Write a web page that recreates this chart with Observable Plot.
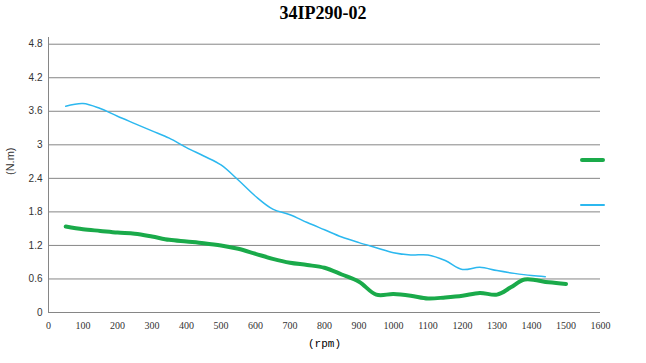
<!DOCTYPE html>
<html><head><meta charset="utf-8">
<script src="https://cdn.jsdelivr.net/npm/d3@7"></script>
<script src="https://cdn.jsdelivr.net/npm/@observablehq/plot@0.6"></script>
<style>
body{margin:0;background:#fff}
#wrap{position:relative;width:646px;height:363px;overflow:hidden}
#title{position:absolute;left:0;width:646px;top:3px;text-align:center;font:bold 18px "Liberation Serif",serif;color:#000}
.leg{position:absolute;left:580px;width:25px}
</style></head>
<body><div id="wrap"><div id="chart"></div><div id="title">34IP290-02</div></div>
<script>
const title = "34IP290-02";
const xLabel = "(rpm)";
const yLabel = "(N.m)";
const xTicks = [0,100,200,300,400,500,600,700,800,900,1000,1100,1200,1300,1400,1500,1600];
const yTicks = [0,0.6,1.2,1.8,2.4,3,3.6,4.2,4.8];
const yTickLabels = ["0","0.6","1.2","1.8","2.4","3","3.6","4.2","4.8"];

const speedBlue = [50,100,150,200,250,300,350,400,450,500,550,600,650,700,750,800,850,900,950,1000,1050,1100,1150,1200,1250,1300,1350,1400,1440];
const torqueBlue = [3.69,3.74,3.65,3.51,3.38,3.25,3.12,2.95,2.80,2.64,2.37,2.08,1.85,1.75,1.61,1.48,1.35,1.25,1.16,1.07,1.03,1.03,0.93,0.77,0.81,0.75,0.70,0.66,0.64];

const speedGreen = [50,100,150,200,250,300,350,400,450,500,550,600,650,700,750,800,850,900,950,1000,1050,1100,1150,1200,1250,1300,1340,1380,1450,1500];
const torqueGreen = [1.54,1.49,1.46,1.43,1.41,1.36,1.30,1.27,1.24,1.20,1.14,1.05,0.96,0.89,0.85,0.80,0.68,0.55,0.32,0.33,0.30,0.25,0.27,0.30,0.35,0.32,0.45,0.59,0.54,0.51];

const seriesColors = ["#1aaa4a", "#2cb8ef"];
const seriesWidths = [4, 1.5];

const blue = speedBlue.map((x,i)=>({x, y: torqueBlue[i]}));
const green = speedGreen.map((x,i)=>({x, y: torqueGreen[i]}));

const chart = Plot.plot({
  width: 646, height: 363,
  marginLeft: 48, marginRight: 46, marginTop: 37, marginBottom: 51,
  style: {background: "#fff", overflow: "visible"},
  x: {domain: [0,1600], ticks: xTicks},
  y: {domain: [0,4.92], ticks: yTicks},
  marks: [
    Plot.ruleY(yTicks, {stroke: "#868686", strokeWidth: 1, strokeOpacity: 1}),
    Plot.ruleX([0], {stroke: "#868686", strokeWidth: 1}),
    Plot.axisY(yTicks, {tickSize: 0, tickPadding: 6, tickFormat: (d,i)=>yTickLabels[i], fontSize: 10, fill: "#333", fontFamily: "Liberation Sans, Arial, sans-serif", label: null}),
    Plot.axisX(xTicks, {tickSize: 0, tickPadding: 9, tickFormat: d=>String(d), fontSize: 10, fill: "#333", fontFamily: "Liberation Serif, serif", label: null}),
    Plot.text([yLabel], {frameAnchor: "left", dx: -38, rotate: -90, fontSize: 11, fill: "#333", fontFamily: "Liberation Sans, Arial, sans-serif"}),
    Plot.text([xLabel], {frameAnchor: "bottom", dy: 34, fontSize: 11, fill: "#000", fontFamily: "Liberation Mono, monospace"}),
    Plot.line(blue, {x: "x", y: "y", stroke: seriesColors[1], strokeWidth: seriesWidths[1], curve: "catmull-rom"}),
    Plot.line(green, {x: "x", y: "y", stroke: seriesColors[0], strokeWidth: seriesWidths[0], curve: "catmull-rom"})
  ]
});
document.getElementById("chart").appendChild(chart);

// legend markers (series names are blank in the reference)
const wrap = document.getElementById("wrap");
[[160, 0],[205, 1]].forEach(([top, i])=>{
  const d = document.createElement("div");
  d.className = "leg";
  d.style.top = (top - seriesWidths[i]/2) + "px";
  d.style.height = seriesWidths[i] + "px";
  d.style.background = seriesColors[i];
  d.style.borderRadius = "2px";
  wrap.appendChild(d);
});
</script>
</body></html>
